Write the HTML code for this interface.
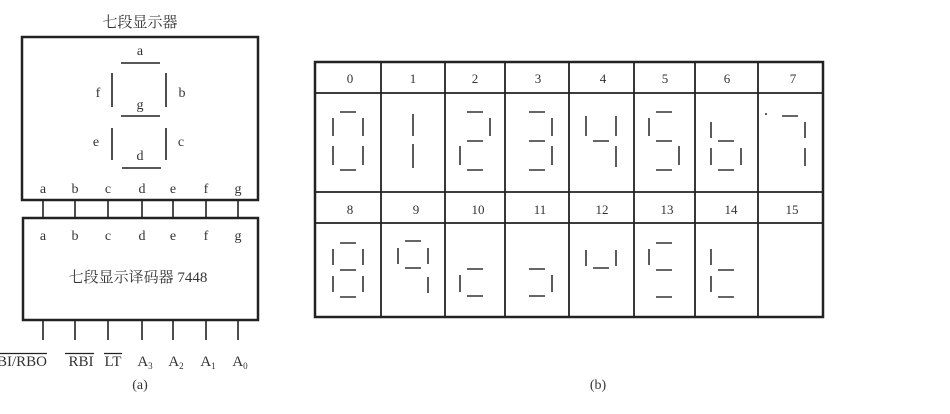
<!DOCTYPE html>
<html><head><meta charset="utf-8"><style>
html,body{margin:0;padding:0;background:#fff;}
svg{display:block}
text{font-family:"Liberation Serif","Noto Serif CJK SC",serif;fill:#333;}
</style></head><body>
<svg width="950" height="414" viewBox="0 0 950 414" xmlns="http://www.w3.org/2000/svg">
<g stroke="#222" fill="none">
<rect x="22" y="37" width="236" height="163" stroke-width="2.5"/>
<rect x="23" y="218" width="235" height="102" stroke-width="2.5"/>
<g stroke-width="1.6">
<path d="M121 63H160M112 73V107M166 73V107M121 116H160M112 128V160M166 128V160M122 168H161"/>
<path d="M43 200V218M75 200V218M108 200V218M142 200V218M173 200V218M206 200V218M238 200V218"/>
<path d="M43 320V340M75 320V340M108 320V340M142 320V340M173 320V340M206 320V340M238 320V340"/>
</g>
<path stroke-width="1.2" d="M0 353.5H47M65 353.5H94M104 353.5H122"/>
<rect x="315" y="62" width="508" height="255" stroke-width="2.5"/>
<path stroke-width="1.8" d="M315 93H823M315 192H823M315 223H823M381 62V317M445 62V317M505 62V317M569 62V317M634 62V317M695 62V317M758 62V317"/>
<g stroke-width="1.6" stroke="#333">
<path d="M340 112H356M333 118V136M363 118V136M333 146V165M363 146V165M340 170H356"/>
<path d="M413 114V136M413 144V168"/>
<path d="M467 112H483M490 118V136M467 141H483M460 146V165M467 170H483"/>
<path d="M529 112H545M552 118V136M529 141H545M552 146V165M529 170H545"/>
<path d="M586 116V136M616 116V136M593 141H609M616 146V167"/>
<path d="M656 112H672M649 118V136M656 141H672M679 146V165M656 170H672"/>
<path d="M711 122V138M718 141H734M711 148V165M741 148V165M718 170H734"/>
<path d="M782 116H798M805 122V138M805 148V166M766 113V115"/>
<path d="M340 243H356M333 249V265M363 249V265M340 270H356M333 276V292M363 276V292M340 297H356"/>
<path d="M405 241H421M398 248V264M428 248V264M405 268H421M428 277V293"/>
<path d="M467 269H483M460 275V292M467 296H483"/>
<path d="M529 269H545M552 275V292M529 296H545"/>
<path d="M593 268H609M586 250V266M616 250V266"/>
<path d="M656 243H672M649 249V265M656 270H672M656 297H672"/>
<path d="M718 270H734M711 249V265M711 276V292M718 297H734"/>
</g>
</g>
<g font-size="14" text-anchor="middle">
<text x="140" y="27" font-size="15">七段显示器</text>
<text x="140" y="55">a</text>
<text x="98" y="97">f</text>
<text x="182" y="97">b</text>
<text x="140" y="109">g</text>
<text x="96" y="146">e</text>
<text x="181" y="146">c</text>
<text x="140" y="160">d</text>
<g fill="#555"><text x="43" y="193">a</text><text x="75" y="193">b</text><text x="108" y="193">c</text><text x="142" y="193">d</text><text x="173" y="193">e</text><text x="206" y="193">f</text><text x="238" y="193">g</text>
<text x="43" y="240">a</text><text x="75" y="240">b</text><text x="108" y="240">c</text><text x="142" y="240">d</text><text x="173" y="240">e</text><text x="206" y="240">f</text><text x="238" y="240">g</text></g>
<text x="138" y="282" font-size="15">七段显示译码器 7448</text>
<g font-size="15">
<text x="22" y="366">BI/RBO</text>
<text x="81" y="366">RBI</text>
<text x="113" y="366">LT</text>
<text x="145" y="366">A<tspan font-size="9" dy="3">3</tspan></text>
<text x="176" y="366">A<tspan font-size="9" dy="3">2</tspan></text>
<text x="208" y="366">A<tspan font-size="9" dy="3">1</tspan></text>
<text x="240" y="366">A<tspan font-size="9" dy="3">0</tspan></text>
</g>
<text x="140" y="389">(a)</text>
<text x="598" y="389">(b)</text>
<g font-size="13"><text x="350" y="83">0</text><text x="413" y="83">1</text><text x="475" y="83">2</text><text x="538" y="83">3</text><text x="603" y="83">4</text><text x="665" y="83">5</text><text x="727" y="83">6</text><text x="793" y="83">7</text>
<text x="350" y="214">8</text><text x="416" y="214">9</text><text x="478" y="214">10</text><text x="540" y="214">11</text><text x="602" y="214">12</text><text x="667" y="214">13</text><text x="731" y="214">14</text><text x="792" y="214" fill="#888">15</text></g>
</g>
</svg>
</body></html>
